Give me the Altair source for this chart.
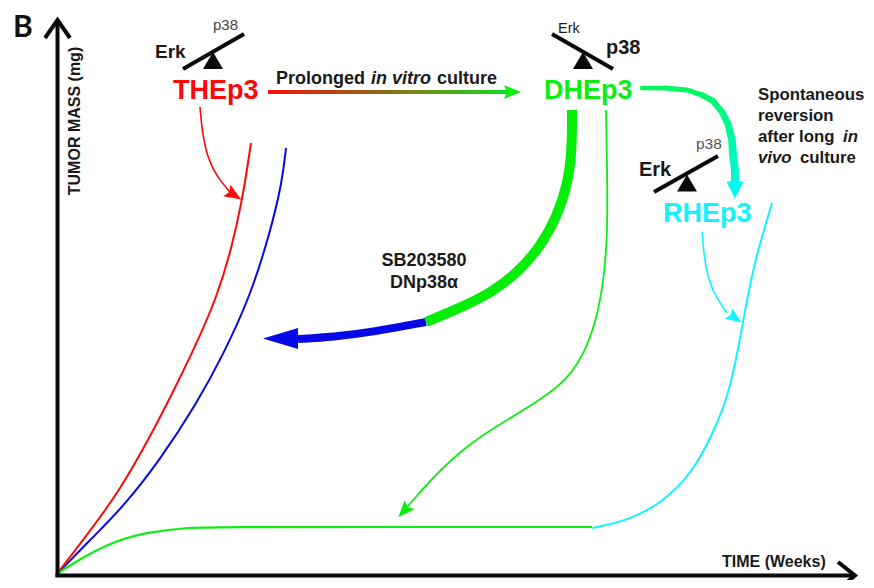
import altair as alt
import pandas as pd

RED = "#fb0808"
BLUE = "#0808e6"
GREEN = "#0cee12"
CYAN = "#10f4ff"
INK = "#1a1a1a"
HEAD = "M0,-1 L0.8,1 L0,0.65 L-0.8,1 Z"
SOLID = "M0,-1 L0.6,1 L-0.6,1 Z"

# Curves (x, y in picture pixels)
red_x = [57, 93, 120, 150, 173, 195, 217, 232, 242, 247, 251]
red_y = [574, 527, 490, 437, 392, 347, 297, 247, 200, 170, 143]
blue_x = [57, 93, 123, 160, 197, 223, 250, 270, 282, 286]
blue_y = [574, 537, 507, 460, 403, 355, 297, 233, 183, 148]
flat_x = [57, 83, 117, 150, 183, 217, 400, 592]
flat_y = [574, 557, 540, 532, 528, 527, 527, 527]
rev_x = [592, 630, 663, 693, 713, 728, 738, 747, 755, 772]
rev_y = [528, 520, 502, 472, 433, 397, 350, 300, 260, 203]
red_arrow_x = [200, 202, 207, 217, 230]
red_arrow_y = [107, 130, 157, 177, 192]
cyan_arrow_x = [702, 705, 713, 727]
cyan_arrow_y = [232, 267, 293, 313]
down_x = [606, 607, 608, 602, 587, 567, 540, 507, 470, 440, 413, 403]
down_y = [110, 167, 233, 300, 350, 380, 400, 420, 443, 470, 500, 512]
yaxis_x = [57.5, 57.5]
yaxis_y = [577, 20]
xaxis_x = [55.5, 855]
xaxis_y = [575.5, 575.5]
ychev_x = [45, 57.5, 70]
ychev_y = [38, 20, 38]
xchev_x = [838, 855, 840]
xchev_y = [562, 575.5, 588]

thick_x = [572, 572, 568, 557, 540, 520, 493, 460, 426]
thick_y = [110, 150, 183, 217, 247, 270, 292, 308, 322]
tail_x = [426, 373, 333, 298]
tail_y = [322, 332, 337, 339]
teal_x = [642, 665, 687, 702, 713, 722, 728, 732, 733, 735, 735]
teal_y = [88, 88, 90, 95, 101, 112, 124, 140, 155, 170, 184]
teal_w = [4.5, 5, 5, 5.5, 6, 6.5, 7, 7.5, 8, 8, 8]

# Balance beams: (x1, y1, x2, y2)
beams = [(183, 69, 244, 34), (552, 34, 613, 69), (654, 192, 718, 156)]
# Fulcrums: centre x, centre y
fulcrum_x = [213, 583, 687]
fulcrum_y = [60.5, 60.5, 183]

# Arrowheads: x, y, size in px, angle, colour, shape
heads = [
    (512.5, 92, 17, 90, GREEN, HEAD),
    (234, 195, 17, 122, RED, HEAD),
    (735, 190, 17, 180, "#00faf4", "M0,-1 L1,1 L-1,1 Z"),
    (404, 511, 17, 222, GREEN, HEAD),
    (735, 318, 16, 125, CYAN, HEAD),
    (280.5, 338.5, 35, 270, BLUE, SOLID),
]

# Texts: x, baseline y, text, size, weight, style, colour, align, font
SANS = "Liberation Sans"
texts = [
    (13, 37, "B", 30, "bold", "normal", "#111111", "left", "Lato"),
    (155, 58, "Erk", 19, "bold", "normal", INK, "left", SANS),
    (213, 30, "p38", 15, "normal", "normal", "#444444", "left", SANS),
    (173, 99, "THEp3", 27, "bold", "normal", RED, "left", SANS),
    (276, 84, "Prolonged", 18, "bold", "normal", INK, "left", SANS),
    (371, 84, "in vitro", 18, "bold", "italic", INK, "left", SANS),
    (437, 84, "culture", 18, "bold", "normal", INK, "left", SANS),
    (558, 33, "Erk", 14.5, "normal", "normal", INK, "left", SANS),
    (606, 54, "p38", 20, "bold", "normal", INK, "left", SANS),
    (544, 99, "DHEp3", 27, "bold", "normal", GREEN, "left", SANS),
    (758, 100, "Spontaneous", 16.8, "bold", "normal", INK, "left", SANS),
    (758, 121, "reversion", 16.8, "bold", "normal", INK, "left", SANS),
    (758, 142, "after long", 16.8, "bold", "normal", INK, "left", SANS),
    (843, 142, "in", 16.8, "bold", "italic", INK, "left", SANS),
    (758, 163, "vivo", 16.8, "bold", "italic", INK, "left", SANS),
    (800, 163, "culture", 16.8, "bold", "normal", INK, "left", SANS),
    (639, 176, "Erk", 20, "bold", "normal", INK, "left", SANS),
    (696, 149, "p38", 15.5, "normal", "normal", "#555555", "left", SANS),
    (663, 222, "RHEp3", 27, "bold", "normal", CYAN, "left", SANS),
    (424, 266, "SB203580", 18, "bold", "normal", INK, "center", SANS),
    (424, 288, "DNp38α", 18, "bold", "normal", INK, "center", SANS),
    (722, 567, "TIME (Weeks)", 16, "bold", "normal", INK, "left", SANS),
]

X = alt.Scale(domain=[8, 866], zero=False, nice=False)
Y = alt.Scale(domain=[580, 8], zero=False, nice=False)


def frame(xs, ys, **extra):
    d = {"x": xs, "y": ys, "i": list(range(len(xs)))}
    d.update(extra)
    return pd.DataFrame(d)


def pos():
    return dict(
        x=alt.X("x:Q", scale=X, axis=None),
        y=alt.Y("y:Q", scale=Y, axis=None),
    )


def curve(xs, ys, color, width=2.0, interpolate="basis"):
    return (
        alt.Chart(frame(xs, ys))
        .mark_line(color=color, strokeWidth=width, interpolate=interpolate, strokeCap="butt")
        .encode(order="i:Q", **pos())
    )


def head(x, y, size, angle, color, shape):
    return (
        alt.Chart(frame([x], [y]))
        .mark_point(shape=shape, size=size * size, angle=angle, filled=True, color=color, opacity=1, strokeWidth=0)
        .encode(**pos())
    )


def label(x, y, text, size, weight, style, color, align, font):
    return (
        alt.Chart(frame([x], [y], t=[text]))
        .mark_text(
            text=text, font=font, fontSize=size, fontWeight=weight,
            fontStyle=style, color=color, align=align, baseline="alphabetic",
        )
        .encode(**pos())
    )


layers = []

# Gradient culture arrow body
layers.append(
    alt.Chart(pd.DataFrame({"x": [268], "x2": [508], "y": [90], "y2": [94]}))
    .mark_rect(
        color=alt.Gradient(
            gradient="linear",
            x1=0, x2=1, y1=0, y2=0,
            stops=[
                alt.GradientStop(offset=0, color="#f01010"),
                alt.GradientStop(offset=0.5, color="#8f6f10"),
                alt.GradientStop(offset=1, color="#10e020"),
            ],
        )
    )
    .encode(
        x=alt.X("x:Q", scale=X, axis=None), x2="x2:Q",
        y=alt.Y("y:Q", scale=Y, axis=None), y2="y2:Q",
    )
)

# Teal reversion arrow body, widening towards its head
layers.append(
    alt.Chart(frame(teal_x, teal_y, w=teal_w))
    .mark_trail(
        color=alt.Gradient(
            gradient="linear",
            x1=0, x2=0, y1=0, y2=1,
            stops=[
                alt.GradientStop(offset=0, color="#00f85c"),
                alt.GradientStop(offset=1, color="#00f8e8"),
            ],
        ),
    )
    .encode(order="i:Q", size=alt.Size("w:Q", scale=None, legend=None), **pos())
)

layers += [
    curve(blue_x, blue_y, BLUE),
    curve(red_x, red_y, RED),
    curve(flat_x, flat_y, GREEN, 2.2),
    curve(rev_x, rev_y, CYAN, 2),
    curve(red_arrow_x, red_arrow_y, RED, 1.6),
    curve(cyan_arrow_x, cyan_arrow_y, CYAN, 1.6),
    curve(down_x, down_y, GREEN, 1.8),
    curve(tail_x, tail_y, BLUE, 8),
    curve(thick_x, thick_y, "#04ee08", 10),
    curve(yaxis_x, yaxis_y, "#0a0a0a", 4, "linear"),
    curve(xaxis_x, xaxis_y, "#0a0a0a", 4, "linear"),
    curve(ychev_x, ychev_y, "#0a0a0a", 4, "linear"),
    curve(xchev_x, xchev_y, "#0a0a0a", 4, "linear"),
]

for x1, y1, x2, y2 in beams:
    layers.append(curve([x1, x2], [y1, y2], "#0a0a0a", 4, "linear"))
for fx, fy in zip(fulcrum_x, fulcrum_y):
    layers.append(head(fx, fy, 20, 0, "#0a0a0a", "M0,-0.85 L1,0.85 L-1,0.85 Z"))
for h in heads:
    layers.append(head(*h))
for t in texts:
    layers.append(label(*t))

# Rotated axis title
layers.append(
    alt.Chart(frame([80], [121]))
    .mark_text(
        text="TUMOR MASS (mg)", font=SANS, fontSize=16, fontWeight="bold",
        color=INK, angle=270, align="center", baseline="alphabetic",
    )
    .encode(**pos())
)

chart = (
    alt.layer(*layers)
    .properties(width=858, height=572, padding=0, autosize="none", background="white")
    .configure_view(stroke=None)
)

chart.save("out.html", embed_options={"renderer": "svg", "actions": False})
